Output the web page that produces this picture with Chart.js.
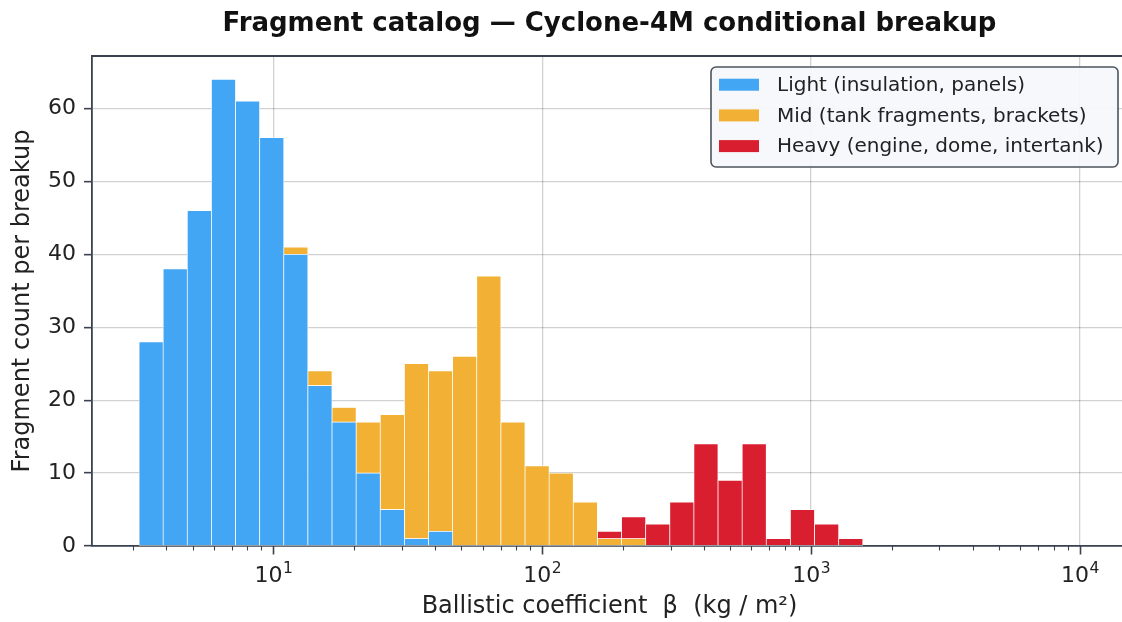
<!DOCTYPE html>
<html>
<head>
<meta charset="utf-8">
<script src="https://cdn.jsdelivr.net/npm/chart.js@4.4.0/dist/chart.umd.min.js"></script>
<style>
  html, body { margin: 0; padding: 0; overflow: hidden; background: #fff; }
  #wrap { width: 1130px; height: 622px; }
</style>
</head>
<body>
<div id="wrap"><canvas id="chart" width="1130" height="622"></canvas></div>
<script>
// Histogram bins (geometric bin centres, kg/m^2)
const binCenters = [3.507, 4.311, 5.301, 6.518, 8.013, 9.853, 12.11, 14.89, 18.31, 22.51,
                    27.68, 34.04, 41.84, 51.44, 63.25, 77.78, 95.66, 117.6, 144.6, 177.8,
                    218.6, 268.8, 330.5, 406.2, 499.6, 614.2, 755.1, 928.6, 1142, 1404];

// Fragment counts per bin, one array per class
const lightCounts = [28, 38, 46, 64, 61, 56, 40, 22, 17, 10, 5, 1, 2, 0, 0,
                     0, 0, 0, 0, 0, 0, 0, 0, 0, 0, 0, 0, 0, 0, 0];
const midCounts   = [0, 0, 0, 0, 0, 0, 1, 2, 2, 7, 13, 24, 22, 26, 37,
                     17, 11, 10, 6, 1, 1, 0, 0, 0, 0, 0, 0, 0, 0, 0];
const heavyCounts = [0, 0, 0, 0, 0, 0, 0, 0, 0, 0, 0, 0, 0, 0, 0,
                     0, 0, 0, 0, 1, 3, 3, 6, 14, 9, 14, 1, 5, 3, 1];

const seriesLabels = ['Light (insulation, panels)', 'Mid (tank fragments, brackets)', 'Heavy (engine, dome, intertank)'];
const seriesColors = ['#42a6f5', '#f2b134', '#d91f2f'];

// Axis ticks / ranges
const xDecades = [10, 100, 1000, 10000];
const xExponents = ['1', '2', '3', '4'];
const yTickValues = [0, 10, 20, 30, 40, 50, 60];
const xMin = 2.1135, xMax = 14962;
const yMax = 67.2;

const titleText = 'Fragment catalog \u2014 Cyclone-4M conditional breakup';
const xTitle = 'Ballistic coefficient  \u03b2  (kg / m\u00b2)';
const yTitle = 'Fragment count per breakup';

const FONT = "'DejaVu Sans', 'Liberation Sans', sans-serif";
const SPINE = '#39424e';
const TEXT = '#222222';
const GRID = 'rgba(0, 0, 0, 0.18)';

function toPoints(counts) {
    return counts.map((v, i) => ({x: binCenters[i], y: v > 0 ? v : null}));
}

// Draws top spine, log minor ticks, 10^n labels, title and legend box
const decorPlugin = {
    id: 'decor',
    afterDraw(chart) {
        const ctx = chart.ctx;
        const area = chart.chartArea;
        const xs = chart.scales.x;
        ctx.save();

        // top spine
        ctx.strokeStyle = SPINE;
        ctx.lineWidth = 1.8;
        ctx.beginPath();
        ctx.moveTo(area.left - 0.9, area.top);
        ctx.lineTo(area.right, area.top);
        ctx.stroke();

        // x tick marks (major + minor)
        for (let e = 0; e <= 4; e++) {
            for (let m = 1; m <= 9; m++) {
                const v = m * Math.pow(10, e);
                if (v < xMin || v > xMax) continue;
                const px = Math.round(xs.getPixelForValue(v)) + 0.5;
                const major = m === 1;
                ctx.lineWidth = major ? 1.6 : 1.1;
                ctx.beginPath();
                ctx.moveTo(px, area.bottom);
                ctx.lineTo(px, area.bottom + (major ? 8.5 : 4.5));
                ctx.stroke();
            }
        }

        // x tick labels as 10^n
        ctx.fillStyle = TEXT;
        ctx.textBaseline = 'alphabetic';
        xDecades.forEach((v, i) => {
            const px = xs.getPixelForValue(v);
            ctx.font = '22px ' + FONT;
            const w1 = ctx.measureText('10').width;
            ctx.font = '15.5px ' + FONT;
            const w2 = ctx.measureText(xExponents[i]).width;
            const x0 = px - (w1 + w2) / 2;
            ctx.textAlign = 'left';
            ctx.font = '22px ' + FONT;
            ctx.fillText('10', x0, 581.5);
            ctx.font = '15.5px ' + FONT;
            ctx.fillText(xExponents[i], x0 + w1 + 0.5, 572.5);
        });

        // title
        ctx.fillStyle = '#111111';
        ctx.font = 'bold 26px ' + FONT;
        ctx.textAlign = 'center';
        ctx.textBaseline = 'middle';
        ctx.fillText(titleText, (area.left + area.right) / 2, 24);

        // legend
        const lx = 711, ly = 67, lw = 407, lh = 100;
        ctx.beginPath();
        ctx.roundRect(lx, ly, lw, lh, 5);
        ctx.fillStyle = 'rgba(245, 247, 251, 0.92)';
        ctx.fill();
        ctx.strokeStyle = '#4d545e';
        ctx.lineWidth = 1.6;
        ctx.stroke();
        ctx.font = '20px ' + FONT;
        ctx.textAlign = 'left';
        ctx.textBaseline = 'middle';
        seriesLabels.forEach((label, i) => {
            const cy = 84.7 + i * 30.7;
            ctx.fillStyle = seriesColors[i];
            ctx.fillRect(719, cy - 6, 40, 12);
            ctx.fillStyle = TEXT;
            ctx.fillText(label, 777, cy + 1);
        });

        ctx.restore();
    }
};

const ctx = document.getElementById('chart').getContext('2d');
const chart = new Chart(ctx, {
    type: 'bar',
    data: {
        datasets: [lightCounts, midCounts, heavyCounts].map((counts, i) => ({
            label: seriesLabels[i],
            data: toPoints(counts),
            backgroundColor: seriesColors[i],
            borderColor: 'rgba(255, 255, 255, 0.85)',
            borderWidth: 0.7,
            borderSkipped: false,
            categoryPercentage: 1.0,
            barPercentage: 1.0
        }))
    },
    options: {
        responsive: false,
        animation: false,
        layout: {padding: {top: 56, right: 3, left: 0, bottom: 0}},
        plugins: {
            legend: {display: false},
            title: {display: false},
            tooltip: {enabled: false}
        },
        scales: {
            x: {
                type: 'logarithmic',
                stacked: true,
                offset: false,
                min: xMin,
                max: xMax,
                z: 1,
                afterBuildTicks: (scale) => {
                    scale.ticks = xDecades.map(v => ({value: v, major: true}));
                },
                afterFit: (scale) => { scale.height = 76; },
                ticks: {display: false},
                grid: {color: GRID, lineWidth: 1.3, drawTicks: false, offset: false},
                border: {color: SPINE, width: 1.8},
                title: {
                    display: true,
                    text: xTitle,
                    color: TEXT,
                    font: {family: FONT, size: 24},
                    padding: {top: 0, bottom: 1}
                }
            },
            y: {
                stacked: true,
                min: 0,
                max: yMax,
                z: 1,
                afterBuildTicks: (scale) => {
                    scale.ticks = yTickValues.map(v => ({value: v}));
                },
                afterFit: (scale) => { scale.width = 92; },
                ticks: {
                    color: TEXT,
                    font: {family: FONT, size: 22},
                    padding: 8
                },
                grid: {color: GRID, lineWidth: 1.3, tickLength: 8, tickColor: SPINE, tickWidth: 1.6},
                border: {color: SPINE, width: 1.8},
                title: {
                    display: true,
                    text: yTitle,
                    color: TEXT,
                    font: {family: FONT, size: 24},
                    padding: {top: 8, bottom: 0}
                }
            }
        }
    },
    plugins: [decorPlugin]
});
</script>
</body>
</html>
